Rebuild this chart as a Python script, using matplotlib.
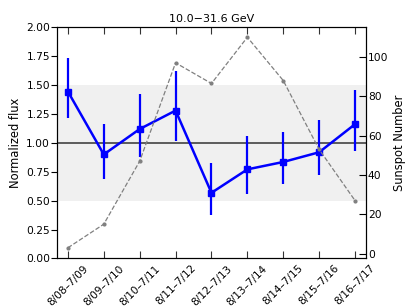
import matplotlib
matplotlib.use("Agg")
import matplotlib.pyplot as plt
import numpy as np

labels = ["8/08\u20137/09", "8/09\u20137/10", "8/10\u20137/11", "8/11\u20137/12",
          "8/12\u20137/13", "8/13\u20137/14", "8/14\u20137/15", "8/15\u20137/16", "8/16\u20137/17"]
flux = [1.445, 0.90, 1.12, 1.28, 0.568, 0.771, 0.835, 0.919, 1.162]
err_hi = [0.29, 0.265, 0.305, 0.34, 0.26, 0.29, 0.263, 0.28, 0.30]
err_lo = [0.23, 0.21, 0.238, 0.26, 0.19, 0.21, 0.194, 0.20, 0.23]
sunspot = [3, 15, 47, 97, 86.5, 110, 88, 53, 27]

fig = plt.figure(figsize=(4.11, 3.08), dpi=100)
ax = fig.add_axes([0.139, 0.161, 0.751, 0.750])
x = np.arange(len(labels))

ax.axhspan(0.5, 1.5, color="#f0f0f0", zorder=0, lw=0)
ax.axhline(1.0, color="#333333", lw=1.1, zorder=1)
ax.errorbar(x, flux, yerr=[err_lo, err_hi], color="blue", marker="s", ms=5,
            lw=1.8, elinewidth=1.6, capsize=0, zorder=5)
ax.set_ylim(0, 2.0)
ax.set_xlim(-0.3, 8.3)
ax.set_yticks([0, 0.25, 0.5, 0.75, 1.0, 1.25, 1.5, 1.75, 2.0])
ax.set_yticklabels(["0.00", "0.25", "0.50", "0.75", "1.00", "1.25", "1.50", "1.75", "2.00"])
ax.set_xticks(x)
ax.set_xticklabels(labels, rotation=45, ha="center", fontsize=7.6)
ax.tick_params(axis="y", direction="out", length=4, pad=1, labelsize=7.7)
ax.tick_params(axis="x", direction="in", length=5, top=True, color="#333333", labelsize=7.6, pad=3.5)
ax.set_ylabel("Normalized flux", fontsize=8.3, labelpad=3)
ax.set_title("10.0\u221231.6 GeV", fontsize=8, pad=4)

ax2 = ax.twinx()
ax2.plot(x, sunspot, color="gray", ls="--", lw=0.9, marker="o", ms=2, zorder=2)
ax2.set_ylim(-2.4, 115)
ax2.set_yticks([0, 20, 40, 60, 80, 100])
ax2.tick_params(axis="y", direction="in", length=5, pad=1.5, labelsize=7.7)
ax2.set_ylabel("Sunspot Number", fontsize=8.3, labelpad=3)

fig.savefig("out.png", dpi=100)
